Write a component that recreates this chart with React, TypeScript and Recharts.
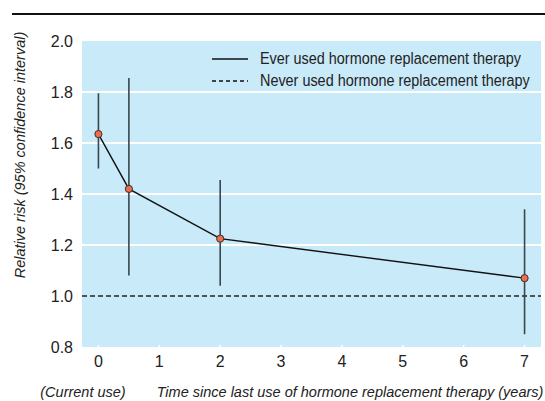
import {
  ComposedChart,
  Line,
  ErrorBar,
  XAxis,
  YAxis,
  CartesianGrid,
  ReferenceLine,
} from 'recharts';

// Years since last use of HRT (0 = current use)
const years = [0, 0.5, 2, 7];
const relativeRisk = [1.635, 1.42, 1.225, 1.07];
const ciLow = [1.5, 1.08, 1.04, 0.85];
const ciHigh = [1.795, 1.855, 1.455, 1.34];

const xTicks = [0, 1, 2, 3, 4, 5, 6, 7];
const yTicks = [0.8, 1.0, 1.2, 1.4, 1.6, 1.8, 2.0];
const gridValues = [1.2, 1.4, 1.6, 1.8];
const neverUsedLevel = 1.0;

const legendItems = [
  { label: 'Ever used hormone replacement therapy', dash: undefined },
  { label: 'Never used hormone replacement therapy', dash: '4 3' },
];

const data = years.map((year, i) => ({
  year,
  rr: relativeRisk[i],
  ci: [relativeRisk[i] - ciLow[i], ciHigh[i] - relativeRisk[i]],
}));

const SANS = "'Liberation Sans', Arial, sans-serif";
const BG = '#c8eaf9';

function XTick({ x, y, payload }: any) {
  return (
    <g>
      <line x1={x} x2={x} y1={y - 4} y2={y} stroke="#fff" strokeWidth={1.5} />
      <text x={x} y={y + 18} textAnchor="middle" fontSize={16} fontFamily={SANS} fill="#222">
        {payload.value}
      </text>
    </g>
  );
}

function LegendBox() {
  return (
    <div
      style={{
        position: 'absolute',
        left: 208,
        top: 48,
        fontFamily: SANS,
        fontSize: 16,
        color: '#222',
        lineHeight: '22px',
        whiteSpace: 'nowrap',
      }}
    >
      {legendItems.map((item) => (
        <div key={item.label} style={{ display: 'flex', alignItems: 'center', height: 22 }}>
          <svg width={52} height={10} style={{ flex: 'none' }}>
            <line x1={4} x2={40} y1={5} y2={5} stroke="#111" strokeWidth={1.3} strokeDasharray={item.dash} />
          </svg>
          <span style={{ display: 'inline-block', transform: 'scaleX(0.9)', transformOrigin: 'left center' }}>
            {item.label}
          </span>
        </div>
      ))}
    </div>
  );
}

export default function App() {
  return (
    <div style={{ position: 'absolute', left: 0, top: 0, width: 545, height: 401, background: '#fff' }}>
      <div style={{ position: 'absolute', left: 12, top: 13, width: 533, height: 1.5, background: '#111' }} />
      <ComposedChart width={545} height={401} data={data} margin={{ top: 41, right: 4, bottom: 0, left: 0 }}>
        <CartesianGrid horizontal={false} vertical={false} fill={BG} stroke="none" />
        {gridValues.map((v) => (
          <ReferenceLine key={v} y={v} stroke="#fff" strokeWidth={2} />
        ))}
        <ReferenceLine y={neverUsedLevel} stroke="#222" strokeWidth={1.3} strokeDasharray="5 3" />
        <XAxis
          type="number"
          dataKey="year"
          domain={[-0.27, 7.27]}
          ticks={xTicks}
          height={54}
          axisLine={false}
          tickLine={false}
          tickSize={0}
          tick={<XTick />}
          label={{
            content: () => (
              <g fontFamily={SANS} fontStyle="italic" fontSize={14.5} fill="#222">
                <text x={83} y={397} textAnchor="middle">(Current use)</text>
                <text x={350} y={397} textAnchor="middle">
                  Time since last use of hormone replacement therapy (years)
                </text>
              </g>
            ),
          }}
        />
        <YAxis
          type="number"
          domain={[0.8, 2.0]}
          ticks={yTicks}
          width={82}
          axisLine={false}
          tickLine={false}
          tickSize={0}
          tickMargin={9}
          tickFormatter={(v: number) => v.toFixed(1)}
          tick={{ fontSize: 16, fontFamily: SANS, fill: '#222' }}
          label={{
            content: () => (
              <text
                x={25}
                y={155}
                transform="rotate(-90, 25, 155)"
                textAnchor="middle"
                fontFamily={SANS}
                fontStyle="italic"
                fontSize={14.5}
                fill="#222"
              >
                Relative risk (95% confidence interval)
              </text>
            ),
          }}
        />
        <Line
          dataKey="rr"
          stroke="#111"
          strokeWidth={1.4}
          isAnimationActive={false}
          dot={{ r: 3.6, fill: '#f26b4b', stroke: '#333', strokeWidth: 1 }}
          legendType="none"
        >
          <ErrorBar dataKey="ci" direction="y" width={0} stroke="#37474f" strokeWidth={1.6} isAnimationActive={false} />
        </Line>
      </ComposedChart>
      <LegendBox />
    </div>
  );
}
